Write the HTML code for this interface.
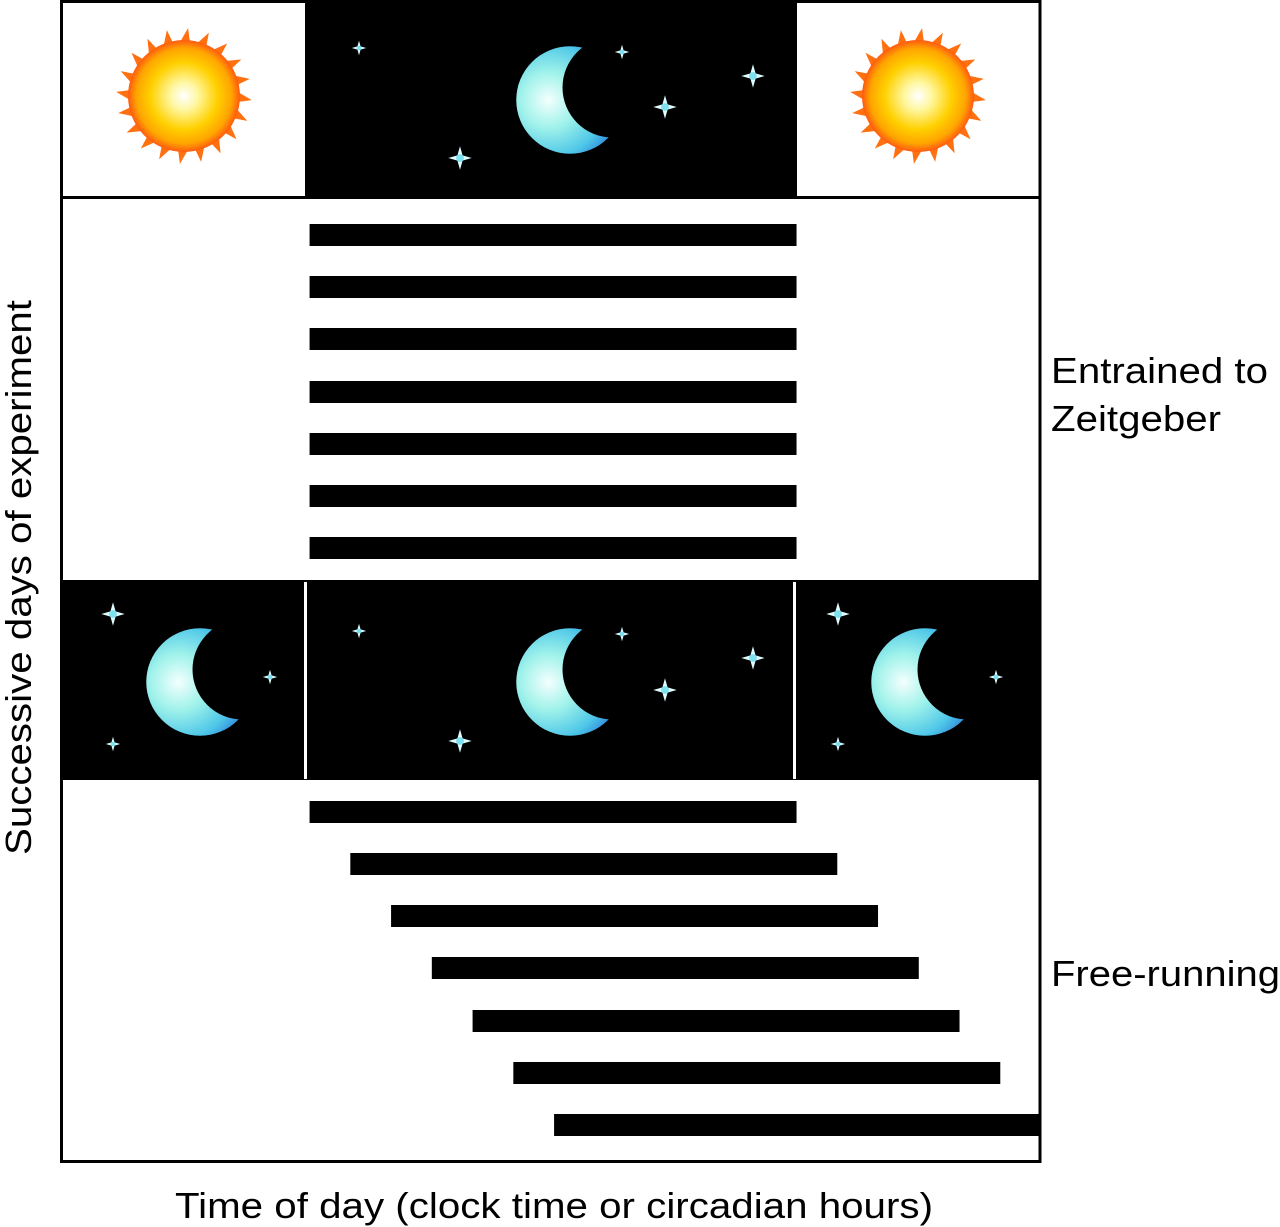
<!DOCTYPE html>
<html><head><meta charset="utf-8"><style>
body{margin:0;background:#fff;}
svg{display:block;font-family:"Liberation Sans",Arial,sans-serif;}
</style></head><body>
<svg id="chart" width="1280" height="1227" viewBox="0 0 1280 1227" xmlns="http://www.w3.org/2000/svg">
<defs>
<radialGradient id="sunG" cx="50%" cy="50%" r="50%">
<stop offset="0" stop-color="#ffffff"/><stop offset="0.25" stop-color="#fff7a0"/><stop offset="0.6" stop-color="#ffd000"/><stop offset="0.85" stop-color="#ffa500"/><stop offset="1" stop-color="#ff5a10"/>
</radialGradient>
<radialGradient id="moonG" cx="30%" cy="50%" r="75%">
<stop offset="0" stop-color="#f4fffe"/><stop offset="0.35" stop-color="#9ff2ea"/><stop offset="0.7" stop-color="#50c8e8"/><stop offset="1" stop-color="#1e6ed8"/>
</radialGradient>
<g id="star"><path d="M0,-9 L2,-2 L9,0 L2,2 L0,9 L-2,2 L-9,0 L-2,-2Z" fill="#dffcff"/><circle r="3" fill="#7fe0f0"/></g>
<g id="sun"><g id="rays"></g><circle r="56" fill="url(#sunG)"/></g>
<g id="moon"><circle r="43" fill="url(#moonG)"/><circle cx="34" cy="-10" r="40" fill="#000"/></g>
</defs>
<g id="top-strip">
<rect x="305" y="2" width="492" height="195" fill="#000"/>
</g>
<g id="night-band">
<rect x="60" y="580" width="981" height="200" fill="#000"/>
<rect x="304" y="582" width="3" height="197" fill="#fff"/>
<rect x="793" y="582" width="3" height="197" fill="#fff"/>
</g>
<g id="icons"></g>
<g id="bars"></g>
<rect x="61.5" y="1.5" width="978.5" height="1160" fill="none" stroke="#000" stroke-width="3"/>
<line x1="60" y1="197.5" x2="1041" y2="197.5" stroke="#000" stroke-width="3"/>
<text x="1051" y="383" font-size="36" textLength="217" lengthAdjust="spacingAndGlyphs">Entrained to</text>
<text x="1051" y="431" font-size="36" textLength="170" lengthAdjust="spacingAndGlyphs">Zeitgeber</text>
<text x="1051" y="986" font-size="36" textLength="229" lengthAdjust="spacingAndGlyphs">Free-running</text>
<text x="175" y="1218" font-size="36" textLength="758" lengthAdjust="spacingAndGlyphs">Time of day (clock time or circadian hours)</text>
<text transform="translate(31,855) rotate(-90)" font-size="36" textLength="555" lengthAdjust="spacingAndGlyphs">Successive days of experiment</text>
</svg>
<script>
// Activity onset (hours) and duration per day
const entrainedStarts = [6.1, 6.1, 6.1, 6.1, 6.1, 6.1, 6.1];
const freeStarts = [6.1, 7.1, 8.1, 9.1, 10.1, 11.1, 12.1];
const activeDuration = [11.95];
const entrainedRowsY = [224, 276, 328, 381, 433, 485, 537];
const freeRowsY = [801, 853, 905, 957, 1010, 1062, 1114];

const NS = 'http://www.w3.org/2000/svg';
const x = h => 61 + h * 40.75;
const xMax = 1041;
const barsG = document.getElementById('bars');
function drawBars(starts, rows, tag) {
  starts.forEach((s, i) => {
    const r = document.createElementNS(NS, 'rect');
    const x0 = x(s), x1 = Math.min(x(s + activeDuration[0]), xMax);
    r.setAttribute('x', x0); r.setAttribute('y', rows[i]);
    r.setAttribute('width', x1 - x0); r.setAttribute('height', 22);
    r.setAttribute('fill', '#000');
    
    
    barsG.appendChild(r);
  });
}
drawBars(entrainedStarts, entrainedRowsY, 'entrained');
drawBars(freeStarts, freeRowsY, 'free-running');

const rays = document.getElementById('rays');
for (let i = 0; i < 20; i++) {
  const a = i * Math.PI * 2 / 20, b = a + 0.13, c = a - 0.13, t = a + 0.06;
  const p = document.createElementNS(NS, 'path');
  p.setAttribute('d', `M${50*Math.cos(c)},${50*Math.sin(c)} L${68*Math.cos(t)},${68*Math.sin(t)} L${50*Math.cos(b)},${50*Math.sin(b)}Z`);
  p.setAttribute('fill', '#ff7010');
  rays.appendChild(p);
}
const icons = document.getElementById('icons');
function use(id, cx, cy, s, name) {
  const u = document.createElementNS(NS, 'use');
  u.setAttribute('href', '#' + id);
  u.setAttribute('transform', `translate(${cx},${cy}) scale(${s})`);
  
  
  icons.appendChild(u);
}
use('sun', 184, 96, 1, 'sun-left');
use('sun', 918, 96, 1, 'sun-right');
use('moon', 570, 100, 1.25, 'moon-top');
[[359,48,0.8],[622,52,0.8],[753,76,1.3],[665,107,1.3],[460,158,1.3]].forEach((s,i)=>use('star',s[0],s[1],s[2],'star-top'));
use('moon', 200, 682, 1.25, 'moon-band-left');
use('moon', 570, 682, 1.25, 'moon-band-center');
use('moon', 925, 682, 1.25, 'moon-band-right');
[[113,614,1.3],[270,677,0.8],[113,744,0.8],[359,631,0.8],[622,634,0.8],[753,658,1.3],[665,690,1.3],[460,741,1.3],[838,614,1.3],[996,677,0.8],[838,744,0.8]].forEach(s=>use('star',s[0],s[1],s[2],'star-band'));
</script>
</body></html>
